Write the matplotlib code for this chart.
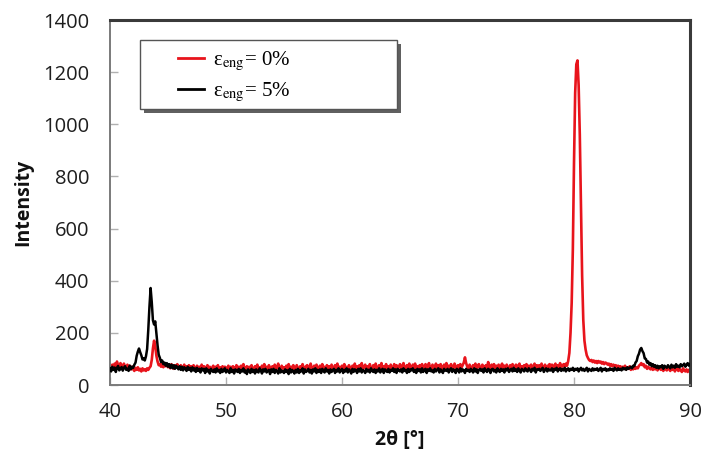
import numpy as np
import matplotlib
matplotlib.use("Agg")
import matplotlib.pyplot as plt
from matplotlib.patches import Rectangle

# ---- data -------------------------------------------------------------
two_theta_start, two_theta_stop, two_theta_step = 40.0, 90.0, 0.1

intensity_5pct = [
    64, 52, 70, 58, 67, 50, 66, 73, 56, 62,
    69, 55, 66, 72, 58, 63, 54, 74, 60, 70,
    66, 78, 86, 112, 128, 140, 126, 114, 98, 102,
    94, 110, 138, 212, 300, 372, 318, 248, 232, 244,
    196, 152, 116, 104, 88, 94, 80, 86, 74, 84,
    70, 80, 66, 78, 64, 76, 62, 74, 68, 60,
    72, 58, 70, 56, 68, 62, 54, 70, 58, 66,
    52, 68, 56, 64, 50, 66, 54, 62, 48, 64,
    56, 62, 46, 64, 52, 58, 44, 62, 54, 50,
    60, 48, 64, 52, 58, 46, 62, 50, 56, 64,
    48, 58, 52, 46, 64, 50, 58, 44, 60, 54,
    50, 62, 46, 58, 52, 64, 48, 56, 42, 60,
    54, 46, 62, 50, 58, 44, 60, 52, 48, 64,
    56, 44, 60, 52, 62, 48, 54, 58, 42, 60,
    50, 62, 46, 58, 54, 44, 64, 48, 56, 52,
    46, 60, 50, 56, 42, 62, 48, 58, 52, 44,
    58, 48, 62, 46, 56, 52, 64, 44, 60, 50,
    54, 62, 48, 58, 44, 60, 52, 64, 46, 58,
    50, 60, 46, 62, 54, 48, 64, 52, 58, 44,
    60, 50, 56, 62, 46, 58, 52, 64, 48, 56,
    62, 46, 58, 52, 64, 48, 60, 54, 44, 62,
    50, 60, 56, 46, 62, 52, 64, 48, 58, 54,
    46, 62, 52, 58, 48, 64, 54, 50, 60, 46,
    58, 52, 64, 48, 56, 62, 46, 60, 54, 50,
    62, 48, 58, 54, 64, 50, 60, 46, 62, 56,
    52, 60, 48, 64, 54, 58, 46, 62, 50, 60,
    56, 64, 50, 58, 46, 62, 54, 60, 48, 64,
    50, 58, 62, 46, 60, 54, 64, 52, 56, 48,
    62, 52, 58, 64, 48, 60, 54, 46, 62, 56,
    54, 62, 48, 58, 64, 50, 60, 56, 46, 62,
    58, 48, 64, 52, 60, 56, 46, 62, 54, 58,
    50, 62, 56, 48, 64, 52, 60, 46, 58, 62,
    54, 60, 48, 64, 56, 50, 62, 58, 46, 60,
    62, 52, 58, 48, 64, 56, 50, 62, 54, 60,
    48, 62, 56, 64, 50, 58, 62, 52, 66, 54,
    60, 50, 64, 56, 48, 62, 58, 52, 64, 56,
    52, 64, 58, 50, 62, 56, 66, 48, 60, 58,
    62, 54, 60, 66, 50, 58, 64, 52, 62, 56,
    56, 64, 50, 62, 58, 66, 52, 60, 64, 54,
    62, 56, 66, 52, 60, 64, 54, 62, 58, 66,
    54, 62, 58, 64, 52, 60, 66, 56, 62, 54,
    60, 66, 52, 62, 58, 54, 64, 56, 62, 58,
    64, 54, 60, 66, 52, 62, 58, 64, 54, 60,
    56, 64, 58, 62, 54, 66, 60, 56, 64, 58,
    62, 56, 66, 60, 64, 58, 68, 62, 66, 70,
    64, 74, 72, 86, 92, 110, 120, 136, 142, 130,
    122, 102, 100, 86, 90, 78, 84, 72, 80, 70,
    76, 66, 74, 64, 72, 68, 76, 62, 74, 70,
    66, 76, 70, 64, 78, 68, 74, 66, 80, 70,
    74, 68, 80, 72, 76, 82, 70, 78, 84, 74,
    80,
]

intensity_0pct = [
    72, 62, 78, 66, 82, 70, 90, 74, 64, 84,
    76, 66, 82, 70, 62, 78, 68, 74, 60, 70,
    60, 54, 66, 58, 68, 56, 62, 52, 64, 56,
    60, 54, 64, 58, 66, 72, 96, 140, 170, 148,
    112, 90, 76, 80, 70, 82, 68, 78, 72, 80,
    68, 78, 64, 80, 70, 62, 76, 66, 80, 70,
    64, 76, 68, 60, 78, 66, 72, 62, 76, 68,
    72, 60, 76, 66, 58, 74, 64, 70, 60, 78,
    62, 72, 58, 68, 76, 60, 70, 56, 66, 74,
    58, 70, 64, 76, 60, 68, 56, 72, 62, 70,
    66, 58, 74, 62, 70, 56, 72, 64, 60, 76,
    60, 70, 56, 74, 64, 80, 58, 66, 72, 60,
    70, 58, 76, 62, 56, 72, 64, 78, 58, 68,
    56, 74, 62, 80, 60, 70, 58, 76, 64, 60,
    72, 60, 78, 56, 68, 82, 62, 58, 74, 64,
    68, 56, 74, 62, 80, 58, 70, 62, 76, 60,
    58, 76, 64, 56, 72, 62, 80, 66, 58, 72,
    76, 60, 68, 82, 62, 56, 74, 60, 78, 66,
    58, 74, 62, 80, 60, 70, 56, 76, 64, 72,
    62, 78, 66, 58, 76, 62, 82, 60, 70, 58,
    74, 62, 80, 58, 70, 60, 76, 66, 56, 74,
    62, 82, 60, 72, 58, 76, 64, 84, 60, 70,
    78, 60, 72, 62, 80, 64, 58, 76, 62, 82,
    64, 58, 76, 62, 84, 60, 72, 64, 80, 60,
    72, 60, 78, 66, 58, 80, 62, 76, 60, 70,
    80, 62, 72, 84, 64, 58, 76, 62, 82, 66,
    60, 78, 64, 82, 62, 72, 58, 76, 64, 80,
    68, 60, 80, 62, 74, 84, 64, 58, 78, 62,
    72, 82, 62, 76, 60, 80, 66, 62, 78, 64,
    84, 64, 74, 60, 80, 66, 62, 82, 70, 62,
    76, 64, 80, 66, 76, 86, 106, 84, 70, 62,
    78, 66, 60, 76, 64, 82, 62, 74, 80, 64,
    62, 78, 70, 60, 76, 66, 88, 72, 62, 78,
    66, 80, 62, 74, 64, 78, 60, 72, 82, 64,
    74, 62, 78, 66, 60, 76, 64, 80, 62, 72,
    78, 64, 74, 82, 62, 72, 60, 76, 66, 80,
    62, 74, 64, 78, 60, 72, 82, 62, 76, 66,
    76, 64, 82, 66, 62, 78, 68, 60, 76, 80,
    66, 78, 62, 74, 82, 64, 76, 68, 84, 70,
    72, 80, 68, 82, 74, 92, 123, 200, 315, 520,
    850, 1120, 1230, 1245, 1150, 960, 700, 420, 250, 170,
    136, 114, 104, 96, 92, 96, 88, 94, 86, 92,
    84, 92, 86, 90, 82, 88, 80, 86, 84, 78,
    82, 74, 80, 72, 78, 70, 76, 68, 74, 66,
    72, 62, 70, 64, 74, 60, 68, 62, 72, 58,
    66, 60, 70, 62, 68, 64, 74, 78, 84, 76,
    80, 68, 74, 62, 70, 64, 60, 68, 58, 66,
    60, 70, 56, 66, 62, 58, 68, 54, 64, 60,
    56, 66, 60, 54, 68, 58, 62, 52, 66, 60,
    54, 62, 56, 50, 64, 56, 52, 60, 50, 58,
    54,
]

series_labels = ["ε$_{\\mathrm{eng}}$= 0%", "ε$_{\\mathrm{eng}}$= 5%"]
x_ticks = [40, 50, 60, 70, 80, 90]
y_ticks = [0, 200, 400, 600, 800, 1000, 1200, 1400]

# ---- figure -----------------------------------------------------------
plt.rcParams["mathtext.fontset"] = "stix"
W, H = 708, 465
fig = plt.figure(figsize=(W / 100, H / 100), dpi=100)
ax = fig.add_axes([110 / W, 1 - 385 / H, 580 / W, 365 / H])

n = int(round((two_theta_stop - two_theta_start) / two_theta_step)) + 1
two_theta = np.round(two_theta_start + two_theta_step * np.arange(n), 2)

l0, = ax.plot(two_theta, intensity_0pct, color="#e8141c", lw=1.9, zorder=2)
l1, = ax.plot(two_theta, intensity_5pct, color="black", lw=1.8, zorder=3)

ax.set_xlim(40, 90)
ax.set_ylim(0, 1400)
ax.set_xticks(x_ticks)
ax.set_yticks(y_ticks)
tickfont = dict(family="Open Sans", size=14.5, color="#1e1e1e")
ax.set_xticklabels([str(t) for t in x_ticks], **tickfont)
ax.set_yticklabels([str(t) for t in y_ticks], **tickfont)
ax.tick_params(axis="both", direction="in", length=6, width=1, color="#b0b0b0")
ax.tick_params(axis="x", pad=12)
ax.tick_params(axis="y", pad=15)

for side in ["left", "bottom"]:
    ax.spines[side].set_color("#7a7a7a")
    ax.spines[side].set_linewidth(1.4)
for side in ["top", "right"]:
    ax.spines[side].set_color("#3a3a3a")
    ax.spines[side].set_linewidth(2.2)

ax.set_xlabel("2θ [°]", family="Open Sans", fontweight="bold", size=14, labelpad=6, color="#111111")
ax.set_ylabel("Intensity", family="Open Sans", fontweight="bold", size=14, labelpad=7, color="#111111")

# legend frame with shadow
x0, y0, w, h = 140 / W, 1 - 109 / H, 257 / W, 69 / H
fig.add_artist(Rectangle((x0 + 4 / W, y0 - 4 / H), w, h, transform=fig.transFigure,
                         facecolor="#606060", edgecolor="none", zorder=3))
fig.add_artist(Rectangle((x0, y0), w, h, transform=fig.transFigure,
                         facecolor="white", edgecolor="#555555", lw=1.0, zorder=4))

leg = fig.legend([l0, l1], series_labels, loc="upper left",
                 bbox_to_anchor=(178 / W, 1 - 50 / H), frameon=False,
                 borderpad=0, borderaxespad=0, handlelength=1.25, handletextpad=0.45,
                 labelspacing=0.38, prop=dict(family="Liberation Serif", size=15))
leg.set_zorder(6)
for lh in leg.get_lines():
    lh.set_linewidth(2.0)

fig.savefig("out.png", dpi=100)
